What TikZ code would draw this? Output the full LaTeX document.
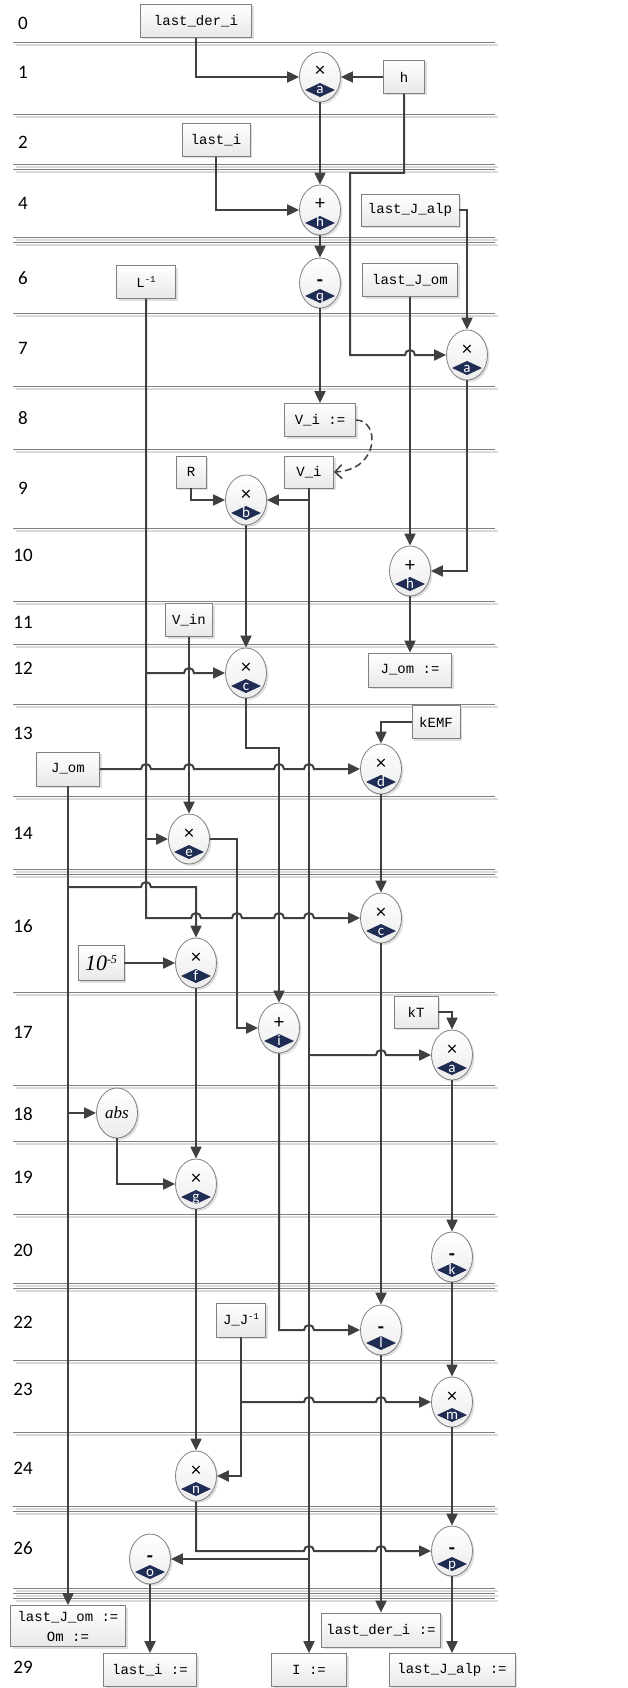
\documentclass[tikz,border=0pt]{standalone}
\usepackage{fontspec}
\setmainfont{Carlito}
\newfontfamily\monof{Liberation Mono}
\newfontfamily\timesf{Liberation Serif}
\usetikzlibrary{arrows.meta,shapes.geometric,shadows,calc}
\definecolor{wirec}{HTML}{404040}
\definecolor{opnavy}{HTML}{1F2D55}
\definecolor{bordc}{HTML}{808080}
\definecolor{sepd}{HTML}{7F7F7F}
\definecolor{sepl}{HTML}{DADADA}
\pgfdeclarelayer{bg}
\pgfsetlayers{bg,main}
\tikzset{
 shad/.style={drop shadow={shadow xshift=2pt,shadow yshift=-2pt,opacity=0.25}},
 box/.style={rectangle, draw=bordc, line width=0.8pt, top color=white, bottom color=gray!18, shad, font=\monof\fontsize{14}{20}\selectfont, inner sep=0pt},
 opc/.style={ellipse, draw=bordc, line width=0.8pt, minimum width=41pt, minimum height=50pt, inner sep=0pt, top color=white, bottom color=gray!15, shad},
 opsym/.style={font=\fontsize{20}{20}\selectfont, inner sep=0pt, text height=8pt, text depth=0pt},
 oplet/.style={text=white, font=\fontsize{15}{15}\selectfont, inner sep=0pt, text height=7pt, text depth=0pt},
 wire/.style={draw=wirec, line width=2pt, -{Triangle[length=12pt,width=11pt]}},
 dashwire/.style={draw=wirec, line width=1.5pt, dash pattern=on 7pt off 4pt, -{Straight Barb[length=7pt,width=14pt]}},
 rowlab/.style={font=\fontsize{19}{22}\selectfont, inner sep=0pt},
}
\newcommand\opminus{{\fontsize{20}{20}\selectfont\bfseries -}}
\newcommand\opnode[6]{%
 \node[opc] (#1) at (#2,#3) {};
 \node[opsym] (#1s) at (#2,#3+#6) {#4};
 \fill[opnavy] (#2-15,#3+13) -- (#2,#3+6) -- (#2+15,#3+13) -- (#2,#3+20) -- cycle;
 \node[oplet] (#1l) at (#2,#3+13.5) {#5};
}
\newcommand\hp[2]{-- (#1-5,#2) arc[start angle=180,end angle=0,radius=5pt]}
\begin{document}
\begin{tikzpicture}[x=1pt,y=-1pt]
\useasboundingbox (0,0) rectangle (627,1688);
\begin{pgfonlayer}{bg}
\fill[white] (0,0) rectangle (627,1688);
\foreach \yy in {42,114,164,169,237,242,313,386,449,528,601,644,704,796,869,874,992,1085,1141,1214,1283,1288,1360,1432,1506,1511,1588,1593,1598}
 \draw[sepl, line width=1.5pt] (16,\yy+3) -- (498,\yy+3);
\foreach \yy in {42,114,164,169,237,242,313,386,449,528,601,644,704,796,869,874,992,1085,1141,1214,1283,1288,1360,1432,1506,1511,1588,1593,1598}
 \draw[sepd, line width=0.9pt] (13,\yy) -- (495,\yy);
\end{pgfonlayer}
% row labels
\foreach \n/\yy in {0/23,1/72,2/142,4/203,6/278,7/348,8/418,9/488,10/555,11/622,12/668,13/733,14/833,16/926,17/1032,18/1114,19/1177,20/1250,22/1322,23/1389,24/1468,26/1548,29/1667}
 \node[rowlab] (r\n) at (23,\yy) {\n};
% boxes
\node[box, minimum width=111pt, minimum height=33pt] (lastderi) at (196,21) {last\_der\_i};
\node[box, minimum width=41pt, minimum height=33pt] (h) at (404,77) {h};
\node[box, minimum width=68pt, minimum height=33pt] (lasti) at (216,140) {last\_i};
\node[box, minimum width=98pt, minimum height=32pt] (lastJalp) at (410,210) {last\_J\_alp};
\node[box, minimum width=59pt, minimum height=33pt] (Linv) at (146,282) {L\raisebox{5pt}{\fontsize{9}{9}\selectfont -1}};
\node[box, minimum width=95pt, minimum height=33pt] (lastJom) at (410,280) {last\_J\_om};
\node[box, minimum width=71pt, minimum height=33pt] (Vis) at (320,420) {V\_i :=};
\node[box, minimum width=30pt, minimum height=32pt] (R) at (191,472) {R};
\node[box, minimum width=49pt, minimum height=32pt] (Vi) at (309,472) {V\_i};
\node[box, minimum width=83pt, minimum height=34pt] (Jomass) at (410,670) {J\_om :=};
\node[box, minimum width=47pt, minimum height=33pt] (Vin) at (189,620) {V\_in};
\node[box, minimum width=48pt, minimum height=33pt] (kEMF) at (436,722) {kEMF};
\node[box, minimum width=63pt, minimum height=34pt] (Jom) at (68,769) {J\_om};
\node[box, minimum width=46pt, minimum height=35pt, font=\timesf\itshape\fontsize{22}{22}\selectfont] (tenm5) at (101,963) {10\raisebox{7pt}{\fontsize{12}{12}\selectfont -5}};
\node[box, minimum width=44pt, minimum height=32pt] (kT) at (416,1012) {kT};
\node[box, minimum width=49pt, minimum height=34pt] (JJinv) at (241,1320) {J\_J\raisebox{5pt}{\fontsize{9}{9}\selectfont -1}};
\node[box, minimum width=115pt, minimum height=41pt, align=center] (outOm) at (68,1626) {last\_J\_om :=\\Om :=};
\node[box, minimum width=119pt, minimum height=34pt] (outlastderi) at (381,1630) {last\_der\_i :=};
\node[box, minimum width=93pt, minimum height=33pt] (outlasti) at (150,1670) {last\_i :=};
\node[box, minimum width=75pt, minimum height=33pt] (outI) at (309,1670) {I :=};
\node[box, minimum width=126pt, minimum height=33pt] (outlastJalp) at (452,1670) {last\_J\_alp :=};
% operation nodes
\opnode{a1}{320}{77}{×}{a}{-4}
\opnode{h4}{320}{210}{+}{h}{-4}
\opnode{q6}{320}{283}{\opminus}{q}{-1}
\opnode{a7}{467}{355}{×}{a}{-4}
\opnode{b9}{246}{500}{×}{b}{-4}
\opnode{h10}{410}{571}{+}{h}{-4}
\opnode{c12}{246}{673}{×}{c}{-4}
\opnode{d13}{381}{769}{×}{d}{-4}
\opnode{e14}{189}{839}{×}{e}{-4}
\opnode{c16}{381}{918}{×}{c}{-4}
\opnode{f16}{196}{963}{×}{f}{-4}
\opnode{i17}{279}{1028}{+}{i}{-4}
\opnode{a17}{452}{1055}{×}{a}{-4}
\node[opc, font=\timesf\itshape\fontsize{17}{17}\selectfont] (abs) at (117,1113) {abs};
\opnode{g19}{196}{1184}{×}{g}{-4}
\opnode{k20}{452}{1257}{\opminus}{k}{-1}
\opnode{l22}{381}{1330}{\opminus}{l}{-1}
\opnode{m23}{452}{1402}{×}{m}{-4}
\opnode{n24}{196}{1476}{×}{n}{-4}
\opnode{p26}{452}{1551}{\opminus}{p}{-1}
\opnode{o26}{150}{1559}{\opminus}{o}{-1}
% junctions
\coordinate (jL12) at (146,673);
\coordinate (jL14) at (146,839);
\coordinate (jJ16) at (68,887);
\coordinate (jJ18) at (68,1113);
\coordinate (jV17) at (309,1055);
\coordinate (jJJ) at (241,1402);
\coordinate (jV26) at (309,1559);
% connectors
\draw[wire] (lastderi.south) |- (a1.west);
\draw[wire] (h.west) -- (a1.east);
\draw[wire] (h.south) -- (404,173) -- (350,173) -- (350,355) \hp{410}{355} -- (a7.west);
\draw[wire] (lasti.south) |- (h4.west);
\draw[wire] (a1.south) -- (h4.north);
\draw[wire] (lastJalp.east) -| (a7.north);
\draw[wire] (h4.south) -- (q6.north);
\draw[wire] (q6.south) -- (Vis.north);
\draw[dashwire] (Vis.east) .. controls (380,420) and (380,470) .. (Vi.east);
\draw[wire] (R.south) |- (b9.west);
\draw[wire] (Vi.south) |- (b9.east);
\draw[wire] (Vi.south) -- (outI.north);
\draw[wire] (lastJom.south) -- (h10.north);
\draw[wire] (a7.south) |- (h10.east);
\draw[wire] (h10.south) -- (Jomass.north);
\draw[wire] (b9.south) -- (c12.north);
\draw[wire] (Linv.south) -- (146,918) \hp{196}{918} \hp{237}{918} \hp{279}{918} \hp{309}{918} -- (c16.west);
\draw[wire] (jL12) \hp{189}{673} -- (c12.west);
\draw[wire] (jL14) -- (e14.west);
\draw[wire] (Vin.south) -- (e14.north);
\draw[wire] (kEMF.west) -| (d13.north);
\draw[wire] (Jom.east) \hp{146}{769} \hp{189}{769} \hp{279}{769} \hp{309}{769} -- (d13.west);
\draw[wire] (c12.south) -- (246,748) -| (i17.north);
\draw[wire] (e14.east) -| (237,1028) -- (i17.west);
\draw[wire] (d13.south) -- (c16.north);
\draw[wire] (Jom.south) -- (outOm.north);
\draw[wire] (jJ16) \hp{146}{887} -| (f16.north);
\draw[wire] (jJ18) -- (abs.west);
\draw[wire] (tenm5.east) -- (f16.west);
\draw[wire] (f16.south) -- (g19.north);
\draw[wire] (kT.east) -| (a17.north);
\draw[wire] (jV17) \hp{381}{1055} -- (a17.west);
\draw[wire] (c16.south) -- (l22.north);
\draw[wire] (i17.south) -- (279,1330) \hp{309}{1330} -- (l22.west);
\draw[wire] (abs.south) |- (g19.west);
\draw[wire] (a17.south) -- (k20.north);
\draw[wire] (k20.south) -- (m23.north);
\draw[wire] (JJinv.south) |- (n24.east);
\draw[wire] (jJJ) \hp{309}{1402} \hp{381}{1402} -- (m23.west);
\draw[wire] (g19.south) -- (n24.north);
\draw[wire] (m23.south) -- (p26.north);
\draw[wire] (n24.south) -- (196,1551) \hp{309}{1551} \hp{381}{1551} -- (p26.west);
\draw[wire] (jV26) -- (o26.east);
\draw[wire] (o26.south) -- (outlasti.north);
\draw[wire] (l22.south) -- (outlastderi.north);
\draw[wire] (p26.south) -- (outlastJalp.north);
\end{tikzpicture}
\end{document}
